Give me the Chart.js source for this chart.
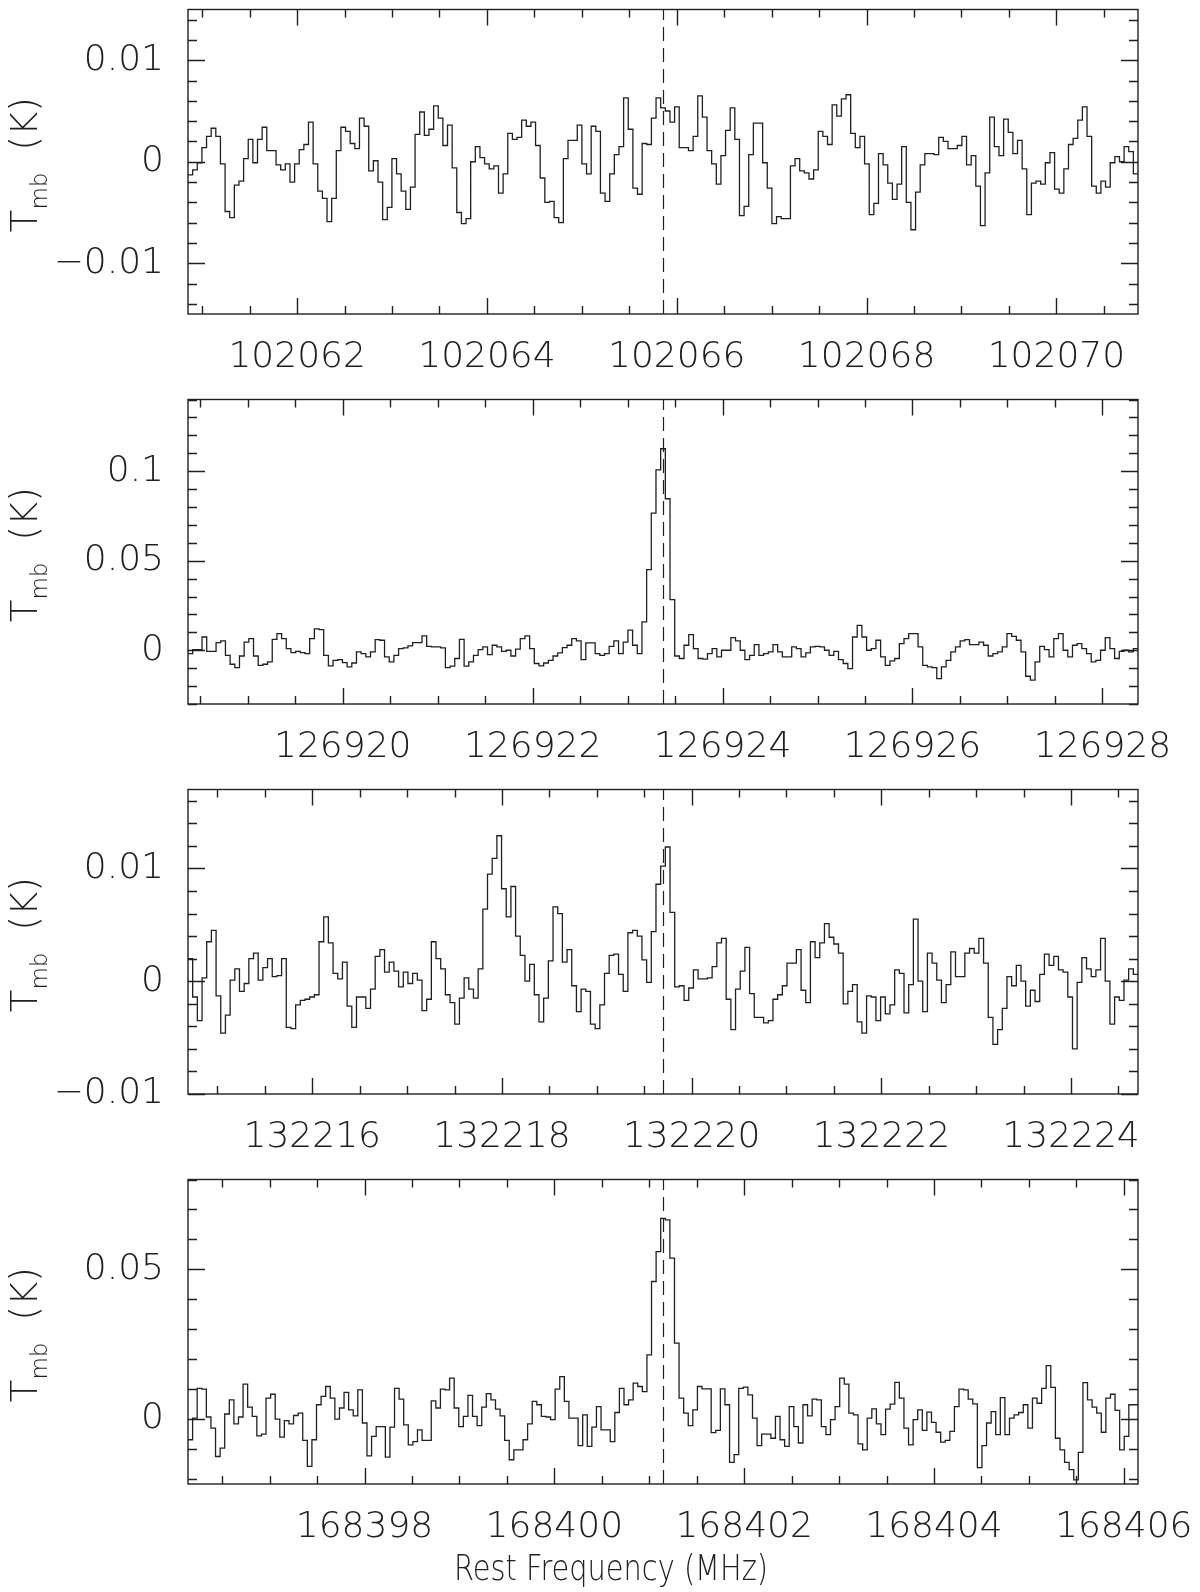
<!DOCTYPE html>
<html lang="en">
<head>
  <meta charset="UTF-8" />
  <title>Rest frequency spectra</title>
  <script src="https://cdn.jsdelivr.net/npm/chart.js"></script>
  <style>
    body { margin: 0; background: #fff; }
    #wrap { position: relative; width: 1200px; height: 1592px; }
    #wrap canvas { position: absolute; left: 0; }
  </style>
</head>
<body>
  <div id="wrap">
    <canvas id="c1" width="1200" height="390" style="top:0"></canvas>
    <canvas id="c2" width="1200" height="390" style="top:390px"></canvas>
    <canvas id="c3" width="1200" height="390" style="top:780px"></canvas>
    <canvas id="c4" width="1200" height="422" style="top:1170px"></canvas>
  </div>

  <script>
    // frequency window of each panel (MHz) and the rest frequency marked by the dashed line
    const freqRange1 = [102060.85, 102070.86];
    const freqRange2 = [126918.37, 126928.375];
    const freqRange3 = [132214.69, 132224.706];
    const freqRange4 = [168396.14, 168406.15];
    const restFreqs = [102065.85, 126923.37, 132219.70, 168401.14];

    // labelled frequency ticks
    const xTicks1 = [102062, 102064, 102066, 102068, 102070];
    const xTicks2 = [126920, 126922, 126924, 126926, 126928];
    const xTicks3 = [132216, 132218, 132220, 132222, 132224];
    const xTicks4 = [168398, 168400, 168402, 168404, 168406];

    // T_mb axis ranges (K), labelled ticks and their labels
    const yRange1 = [-0.015, 0.015];
    const yRange2 = [-0.03, 0.14];
    const yRange3 = [-0.01, 0.017];
    const yRange4 = [-0.0218, 0.08];
    const yTicks1 = [-0.01, 0, 0.01];
    const yTicks2 = [0, 0.05, 0.1];
    const yTicks3 = [-0.01, 0, 0.01];
    const yTicks4 = [0, 0.05];
    const yLabels1 = ['\u22120.01', '0', '0.01'];
    const yLabels2 = ['0', '0.05', '0.1'];
    const yLabels3 = ['\u22120.01', '0', '0.01'];
    const yLabels4 = ['0', '0.05'];

    // spectra, T_mb in mK, one value per channel, low to high frequency
    const tmb1 = [
      -1.3, -0.8, -0.1, 1.4, 2.5, 3.3, 2.5, -0.2, -4.9, -5.5, -2.3, -1.9, 0.3, 2.2, -0.1, 2.2, 3.4, 1.1, 1.1, -0.3,
      -0.8, -0.2, -2.0, -0.2, 1.2, 1.7, 3.9, -0.2, -2.9, -3.6, -5.9, -3.6, 1.1, 3.4, 3.0, 1.8, 1.3, 4.3, 3.5, -0.9,
      0.1, -2.0, -5.7, -4.5, 0.3, -1.2, -2.9, -4.7, -2.5, 2.7, 4.9, 2.6, 3.2, 5.5, 4.3, 1.6, 3.6, -0.6, -5.0, -6.1,
      -5.6, 0.0, 1.5, 0.4, -0.2, -0.7, -0.4, -3.1, -1.2, 2.8, 2.2, 2.4, 4.1, 3.5, 3.9, 1.6, -1.6, -4.0, -3.9, -5.5,
      -6.0, 0.3, 2.1, 2.1, 3.6, -0.2, -1.2, 3.5, 3.0,
      -3.1, -3.9, -1.2, 0.7, 1.5, 6.3, 3.2, -2.6, -3.2, 1.8, 1.7, 4.3, 6.3, 5.3, 5.0, 3.9, 5.4, 1.4, 1.4, 1.1,
      2.5, 6.5, 4.4, 1.1, -0.2, -2.2, 0.6, 3.1, 5.3, 2.2, -5.3, -4.4, 0.7, 3.8, 3.8, -0.1, -2.6, -6.1, -5.4, -5.6,
      -5.6, -0.4, 0.3, -0.9, -1.1, -1.7, -0.8, 3.0, 2.5, 1.7, 5.6, 4.5, 6.2, 6.6, 2.8, 1.4, 2.5, -0.2, -5.2, -4.1,
      0.8, -0.3, -2.1, -3.7, -2.2, 1.5, -4.0, -6.7, -3.0, -0.3, 0.8, 0.8, 0.7, 2.4, 2.0, 1.3, 1.3, 1.6, 2.5, -0.3,
      0.6, -2.4, -6.3, -1.1, 4.4, 1.5, 0.6, 4.2, 2.9, 0.8, 2.1, -0.7, -5.2, -2.1, -1.9, -2.2, -0.1, 0.9, -2.7, -3.1,
      -0.7, 1.7, 2.3, 4.1, 5.4, 2.5, -2.4, -3.1, -1.9, -2.5, -0.1, 0.5, 0.0, 1.5, 1.0, -1.2
    ];
    const tmb2 = [
      -1.9, 0.4, 0.4, 7.4, -0.6, -0.6, 4.3, 5.2, -2.8, -7.8, -9.7, -3.2, 4.6, 6.5, -3.2, -8.4, -7.8, -6.5, 6.1, 9.3,
      6.5, 0.9, -1.3, -0.6, -1.3, -1.9, 6.5, 11.9, 11.5, -2.8, -8.7, -5.6, -5.2, -6.9, -9.3, -7.1, -0.9, -1.9, -3.7, -0.9,
      5.9, 5.6, -3.7, -6.5, -2.8, 0.9, 1.3, 2.4, 4.3, 4.3, 8.0, 2.2, 1.9, 1.9, 1.3, -9.7, -8.9, -4.6, 6.1, -8.9,
      -6.5, -2.8, 0.4, 1.9, -2.4, 2.8, 1.9, -0.6, 0.0, -3.2, 0.6, 6.5, 8.0, 0.9, -7.4, -8.7, -7.1, -5.6, -3.2, -1.5,
      1.5, 2.8, 6.5, 5.2, -5.2, 4.1, 4.1, -1.9,
      -2.8, -1.9, 2.2, 5.2, -1.9, 4.6, 11.2, 2.8, -1.9, 15.8, 45.0, 76.6, 100.7, 112.5, 84.6, 28.3, -3.2, -4.6, 2.8, 8.7,
      0.9, -4.6, -5.0, -1.9, 0.9, -3.7, 0.0, 0.0, 7.1, 5.2, 0.0, -5.2, -2.8, 3.2, -2.8, -1.9, -0.9, 3.2, -0.9, -3.7,
      -3.7, 1.9, 0.9, -3.7, -1.5, 1.9, 2.2, 1.9, 0.0, -2.8, -0.6, -5.2, -7.4, -10.2, 7.4, 13.9, 7.4, 0.0, 0.9, 5.6,
      -3.7, -8.4, -5.9, -4.6, 3.7, 6.5, 9.3, 9.3, 1.9, -8.4, -9.3, -9.7, -15.8, -9.3, -5.6, -0.9, 1.9, 5.2, 5.9, 3.2,
      3.2, 4.6, 2.8, -3.2, -1.9, -0.9, 1.9, 9.3, 7.8, 5.6, -0.9, -14.5, -16.7, -6.5, 2.2, 0.4, -3.7, 6.5, 9.3, 0.0,
      -3.7, 2.8, 3.7, 0.9, -1.9, -6.5, -5.6, 0.0, 7.1, 0.9, -4.6, -0.6, 0.0, -0.9, 0.9
    ];
    const tmb3 = [
      2.0, -1.4, -3.5, 0.3, 3.5, 4.5, -1.3, -4.6, -3.0, 0.1, 1.1, -0.9, -0.2, 2.0, 2.5, 0.1, 1.2, 2.0, 0.4, 0.5,
      2.0, -4.1, -4.2, -2.1, -1.7, -1.6, -1.4, -1.2, 3.5, 5.7, 3.4, 0.7, 0.2, 1.7, -2.2, -4.1, -1.4, -1.4, -2.4, -0.7,
      2.2, 2.8, 0.8, 1.7, 0.9, -0.5, 0.8, -0.2, 0.7, 0.1, -2.6, -1.6, 3.5, 2.0, 1.1, -1.2, -1.9, -3.8, -1.5, 0.3,
      -0.7, -1.5, 1.1, 6.4, 9.5, 10.9, 12.9, 8.2, 5.7, 8.4, 4.0, 2.3, 0.0, 1.5, -1.2, -3.6, -1.5, 1.8, 6.6, 6.0,
      1.7, 2.8, -0.4, -2.7, -0.7, -0.9, -3.8, -4.2, -2.1,
      0.7, 2.3, 2.4, 0.6, -0.9, 4.3, 4.5, 4.0, 1.9, -0.1, 4.4, 8.6, 10.2, 11.9, 6.1, -0.5, -0.4, -1.7, -0.6, 1.0,
      0.2, 0.2, 0.3, 1.3, 3.4, 3.8, -1.6, -4.3, -0.7, 0.9, 3.0, -1.1, -3.2, -3.2, -3.7, -3.5, -1.6, -1.2, -0.4, 1.6,
      1.6, 2.8, -0.8, -1.9, 3.5, 2.1, 3.4, 5.1, 3.9, 3.3, 2.5, -2.0, -0.9, -0.3, -3.6, -4.6, -1.3, -1.4, -3.5, -1.4,
      -2.9, -2.1, 1.0, 0.7, -2.8, -0.3, 5.5, 0.0, -2.7, 2.5, 1.6, 0.1, -1.9, -0.3, 2.6, 0.4, 0.4, 2.5, 2.9, 2.5,
      3.8, 1.6, -3.2, -5.6, -4.3, -2.4, 0.4, -0.4, 1.4, 0.0, -2.2, -0.8, -1.8, 0.6, 2.4, 1.4, 2.2, 1.0, 0.8, -1.4,
      -6.0, -0.1, 2.1, 1.1, 0.4, 1.0, 3.8, 0.0, -3.8, -1.4, -1.7, 0.1, 1.1, 0.6
    ];
    const tmb4 = [
      -7.0, 0.2, 10.2, 9.9, 0.6, -3.1, -12.6, -9.8, 1.6, 6.3, -1.7, 0.6, 11.6, 3.9, 0.8, -5.7, -5.1, 6.9, 8.2, -0.1,
      -6.1, -0.6, -1.7, 1.1, 1.9, -7.2, -15.9, -7.0, 4.7, 7.5, 10.8, 6.9, -0.1, 3.6, 8.8, 3.0, 1.0, 9.7, -1.4, -12.4,
      -5.9, -2.6, -2.6, -12.8, -2.8, 10.2, 6.6, -2.0, -8.7, -7.6, -3.7, -7.2, -7.2, 6.0, 3.6, 9.9, 9.7, 13.6, 3.6, -2.6,
      0.8, 7.8, 0.8, -2.3, 3.9, 8.4, 6.3, 3.2, 1.0, -7.2, -13.7, -10.4, -10.4, -7.0, -1.7, 5.8, 4.7, 0.8, 0.6, -0.3,
      9.9, 14.1, 5.8, 0.2, 0.2, -9.0, 1.3, -9.2, -2.8, 4.1,
      -3.7, -3.7, -7.6, 2.1, 10.2, 4.7, 6.3, 11.9, 10.8, 9.1, 21.4, 45.9, 55.9, 67.0, 66.5, 53.7, 25.3, 6.9, 1.9, -2.3,
      3.0, 10.8, 10.0, 10.0, -4.6, -3.9, 10.0, 4.7, -14.6, -12.0, 10.2, 10.6, 8.0, 0.2, -9.0, -5.1, -5.1, -6.5, 0.8, -7.0,
      -9.2, 4.1, -2.6, -8.1, 4.7, 1.0, 6.6, 6.3, -2.6, -5.3, -0.3, 4.1, 13.6, 11.6, 1.9, 1.3, -8.4, -10.4, 0.2, 3.3,
      -1.7, -5.3, 3.2, 4.9, 12.2, 6.9, -3.1, -8.7, -0.3, 3.0, -3.9, 2.2, -1.2, -4.5, -7.8, -7.2, -4.2, 4.1, 9.9, 9.7,
      6.6, 5.0, -16.3, -9.0, -1.4, 2.4, -5.3, 7.1, -5.3, 0.2, 1.3, 2.1, 4.7, -3.1, 6.9, 5.2, 10.2, 17.8, 10.5, -6.5,
      -10.4, -14.6, -17.0, -20.4, -11.2, 12.1, 6.3, 3.9, 1.9, -4.5, 6.9, 8.2, 2.8, -10.4, -5.9, 4.7, 4.7
    ];

    const INK = '#202020';
    const FONT = "'DejaVu Sans', 'Liberation Sans', sans-serif";

    // channel centres spread evenly over the frequency window
    function toPoints(range, tmb) {
      const w = (range[1] - range[0]) / tmb.length;
      const pts = tmb.map((v, i) => ({ x: range[0] + (i + 0.5) * w, y: v / 1000 }));
      pts.unshift({ x: range[0], y: tmb[0] / 1000 });
      pts.push({ x: range[1], y: tmb[tmb.length - 1] / 1000 });
      return pts;
    }

    const framePlugin = {
      id: 'frame',
      afterDatasetsDraw(chart, args, opts) {
        const { ctx, chartArea: a } = chart;
        const x = chart.scales.x, y = chart.scales.y;
        ctx.save();
        ctx.strokeStyle = INK;
        ctx.lineWidth = 1.4;
        ctx.strokeRect(a.left, a.top, a.right - a.left, a.bottom - a.top);

        ctx.beginPath();
        // frequency ticks: every 0.5 MHz, long ones every 2 MHz
        for (let v = Math.ceil(x.min * 2) / 2; v <= x.max; v += 0.5) {
          const px = Math.round(x.getPixelForValue(v)) + 0.5;
          const len = Math.abs(v / 2 - Math.round(v / 2)) < 1e-6 ? 16 : 8;
          ctx.moveTo(px, a.bottom); ctx.lineTo(px, a.bottom - len);
          ctx.moveTo(px, a.top); ctx.lineTo(px, a.top + len);
        }
        // intensity ticks
        const step = opts.yMinor;
        for (let n = Math.ceil(y.min / step - 1e-6); n <= Math.floor(y.max / step + 1e-6); n++) {
          const v = n * step;
          const py = Math.round(y.getPixelForValue(v)) + 0.5;
          const major = opts.yTicks.some(t => Math.abs(t - v) < step / 10);
          const len = major ? 17 : 9;
          ctx.moveTo(a.left, py); ctx.lineTo(a.left + len, py);
          ctx.moveTo(a.right, py); ctx.lineTo(a.right - len, py);
        }
        ctx.stroke();

        // rest frequency
        const lx = Math.round(x.getPixelForValue(opts.restFreq)) + 0.5;
        ctx.setLineDash([14, 7]);
        ctx.lineWidth = 1.2;
        ctx.beginPath();
        ctx.moveTo(lx, a.bottom);
        ctx.lineTo(lx, a.top);
        ctx.stroke();
        ctx.setLineDash([]);

        // y title: T_mb (K), stretched to the length it has in the figure
        ctx.fillStyle = INK;
        ctx.textBaseline = 'alphabetic';
        const big = '200 37px ' + FONT, small = '200 23px ' + FONT;
        ctx.font = big;
        const wT = ctx.measureText('T').width, wK = ctx.measureText('(K)').width;
        ctx.font = small;
        const wS = ctx.measureText('mb').width;
        const gap = 22;
        const total = wT + wS + gap + wK;
        ctx.translate(37, (a.top + a.bottom) / 2 + 3);
        ctx.rotate(-Math.PI / 2);
        ctx.scale(135 / total, 1);
        let cx = -total / 2;
        ctx.font = big; ctx.fillText('T', cx, 0); cx += wT;
        ctx.font = small; ctx.fillText('mb', cx, 10); cx += wS + gap;
        ctx.font = big; ctx.fillText('(K)', cx, 0);
        ctx.restore();

        if (opts.xTitle) {
          ctx.save();
          ctx.fillStyle = INK;
          ctx.font = '200 35px ' + FONT;
          ctx.textAlign = 'center';
          ctx.textBaseline = 'middle';
          const w = ctx.measureText(opts.xTitle).width;
          ctx.translate(611, a.bottom + 87);
          ctx.scale(314 / w, 1);
          ctx.fillText(opts.xTitle, 0, 0);
          ctx.restore();
        }
      }
    };

    function makePanel(id, range, xTicks, restFreq, yRange, yTicks, yLabels, yMinor, tmb, xTitle) {
      const canvas = document.getElementById(id);
      const axisH = canvas.height - 314;
      const tickFont = { family: FONT, size: 36, weight: '200' };
      return new Chart(canvas, {
        type: 'line',
        data: {
          datasets: [{
            data: toPoints(range, tmb),
            stepped: 'middle',
            borderColor: INK,
            borderWidth: 1.3,
            pointRadius: 0,
            fill: false
          }]
        },
        options: {
          responsive: false,
          animation: false,
          events: [],
          layout: { padding: { top: 9.5, right: 62, left: 0, bottom: 0 } },
          plugins: {
            legend: { display: false },
            tooltip: { enabled: false },
            frame: { restFreq, yTicks, yMinor, xTitle }
          },
          scales: {
            x: {
              type: 'linear', bounds: 'data', min: range[0], max: range[1],
              grid: { display: false, drawTicks: false },
              border: { display: false },
              ticks: { font: tickFont, color: INK, padding: 22, autoSkip: false, maxRotation: 0,
                       callback: v => String(v) },
              afterBuildTicks: s => { s.ticks = xTicks.map(v => ({ value: v })); },
              afterFit: s => { s.height = axisH; s.paddingLeft = 0; s.paddingRight = 0; }
            },
            y: {
              type: 'linear', bounds: 'data', min: yRange[0], max: yRange[1],
              grid: { display: false, drawTicks: false },
              border: { display: false },
              ticks: { font: tickFont, color: INK, padding: 24, autoSkip: false,
                       callback: (v, i) => yLabels[i] },
              afterBuildTicks: s => { s.ticks = yTicks.map(v => ({ value: v })); },
              afterFit: s => { s.width = 188; s.paddingTop = 0; s.paddingBottom = 0; }
            }
          }
        },
        plugins: [framePlugin]
      });
    }

    makePanel('c1', freqRange1, xTicks1, restFreqs[0], yRange1, yTicks1, yLabels1, 0.002, tmb1);
    makePanel('c2', freqRange2, xTicks2, restFreqs[1], yRange2, yTicks2, yLabels2, 0.01, tmb2);
    makePanel('c3', freqRange3, xTicks3, restFreqs[2], yRange3, yTicks3, yLabels3, 0.002, tmb3);
    makePanel('c4', freqRange4, xTicks4, restFreqs[3], yRange4, yTicks4, yLabels4, 0.01, tmb4, 'Rest Frequency (MHz)');
  </script>
</body>
</html>
